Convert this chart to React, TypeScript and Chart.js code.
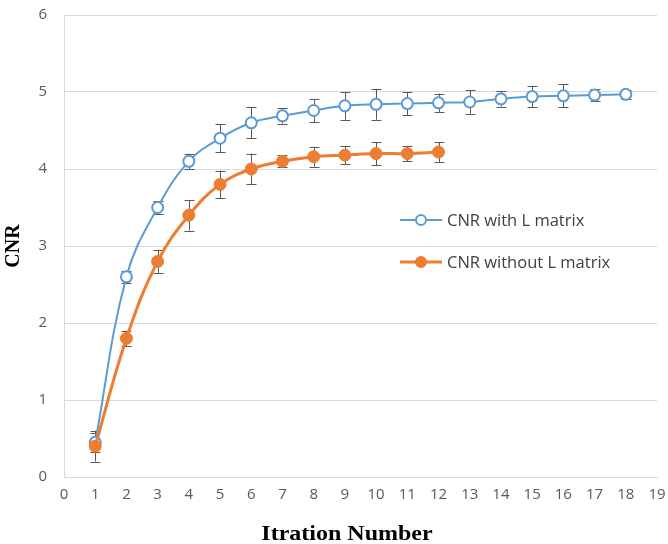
import React, { useEffect, useRef } from "react";
import { Chart, registerables } from "chart.js";

Chart.register(...registerables);

const iterations = [1, 2, 3, 4, 5, 6, 7, 8, 9, 10, 11, 12, 13, 14, 15, 16, 17, 18];
const cnrWithL = [0.45, 2.6, 3.5, 4.1, 4.4, 4.6, 4.69, 4.76, 4.82, 4.84, 4.85, 4.86, 4.87, 4.91, 4.94, 4.95, 4.96, 4.97];
const cnrWithLErr = [0.12, 0.08, 0.08, 0.1, 0.18, 0.2, 0.1, 0.15, 0.18, 0.2, 0.15, 0.12, 0.15, 0.1, 0.14, 0.15, 0.08, 0.06];
const cnrWithoutL = [0.4, 1.8, 2.8, 3.4, 3.8, 4.0, 4.1, 4.16, 4.18, 4.2, 4.2, 4.22];
const cnrWithoutLErr = [0.2, 0.1, 0.15, 0.2, 0.18, 0.2, 0.08, 0.13, 0.12, 0.15, 0.1, 0.13];
const seriesLabels = ["CNR with L matrix", "CNR without L matrix"];
const xTitle = "Itration Number";
const yTitle = "CNR";

const BLUE = "#5B9BD5";
const ORANGE = "#ED7D31";

const errors = [cnrWithLErr, cnrWithoutLErr];

const errorBarPlugin = {
  id: "errorBars",
  beforeDatasetsDraw(chart: any) {
    const ctx = chart.ctx;
    const xs = chart.scales.x;
    const ys = chart.scales.y;
    ctx.save();
    ctx.strokeStyle = "#595959";
    ctx.lineWidth = 1;
    chart.data.datasets.forEach((ds: any, di: number) => {
      const errs = errors[di];
      ds.data.forEach((p: any, i: number) => {
        const e = errs[i];
        const px = Math.round(xs.getPixelForValue(p.x)) + 0.5;
        const top = ys.getPixelForValue(p.y + e);
        const bot = ys.getPixelForValue(p.y - e);
        const cap = 5;
        ctx.beginPath();
        ctx.moveTo(px, top);
        ctx.lineTo(px, bot);
        ctx.moveTo(px - cap, Math.round(top) + 0.5);
        ctx.lineTo(px + cap, Math.round(top) + 0.5);
        ctx.moveTo(px - cap, Math.round(bot) + 0.5);
        ctx.lineTo(px + cap, Math.round(bot) + 0.5);
        ctx.stroke();
      });
    });
    ctx.restore();
  },
};

const legendPlugin = {
  id: "insideLegend",
  afterDraw(chart: any) {
    const ctx = chart.ctx;
    const items = [
      { label: seriesLabels[0], color: BLUE, filled: false, width: 2, y: 220 },
      { label: seriesLabels[1], color: ORANGE, filled: true, width: 3, y: 262 },
    ];
    ctx.save();
    items.forEach((it) => {
      ctx.strokeStyle = it.color;
      ctx.lineWidth = it.width;
      ctx.beginPath();
      ctx.moveTo(400, it.y);
      ctx.lineTo(442, it.y);
      ctx.stroke();
      ctx.beginPath();
      ctx.arc(421, it.y, 5, 0, Math.PI * 2);
      ctx.fillStyle = it.filled ? it.color : "#ffffff";
      ctx.fill();
      ctx.lineWidth = 2;
      ctx.stroke();
      ctx.fillStyle = "#404040";
      ctx.font = "16.5px 'Open Sans', sans-serif";
      ctx.textBaseline = "middle";
      ctx.textAlign = "left";
      ctx.fillText(it.label, 447, it.y + 1);
    });
    ctx.restore();
  },
};

const xTitlePlugin = {
  id: "xTitle",
  afterDraw(chart: any) {
    const ctx = chart.ctx;
    ctx.save();
    ctx.fillStyle = "#000000";
    ctx.font = "bold 20px 'Liberation Serif', 'Times New Roman', serif";
    ctx.textAlign = "center";
    ctx.textBaseline = "alphabetic";
    ctx.translate(347, 540);
    ctx.scale(1.2, 1);
    ctx.fillText(xTitle, 0, 0);
    ctx.restore();
  },
};

export default function App() {
  const ref = useRef<HTMLCanvasElement>(null);
  useEffect(() => {
    if (!ref.current) return;
    const chart = new Chart(ref.current, {
      type: "line",
      data: {
        datasets: [
          {
            label: seriesLabels[0],
            data: iterations.map((x, i) => ({ x, y: cnrWithL[i] })),
            borderColor: BLUE,
            backgroundColor: "#ffffff",
            borderWidth: 2,
            pointRadius: 5.5,
            pointBorderWidth: 2,
            pointBorderColor: BLUE,
            pointBackgroundColor: "#ffffff",
            tension: 0.4,
            order: 1,
          },
          {
            label: seriesLabels[1],
            data: iterations.slice(0, cnrWithoutL.length).map((x, i) => ({ x, y: cnrWithoutL[i] })),
            borderColor: ORANGE,
            backgroundColor: ORANGE,
            borderWidth: 3,
            pointRadius: 6,
            pointBorderWidth: 1,
            pointBorderColor: ORANGE,
            pointBackgroundColor: ORANGE,
            tension: 0.4,
            order: 0,
          },
        ],
      },
      options: {
        animation: false,
        responsive: false,
        layout: { padding: { top: 15, right: 11, left: 0, bottom: 0 } },
        plugins: { legend: { display: false }, tooltip: { enabled: false } },
        scales: {
          x: {
            type: "linear",
            min: 0,
            max: 19,
            afterFit: (s: any) => {
              s.height = 67;
              s.paddingLeft = 0;
              s.paddingRight = 0;
            },
            ticks: {
              stepSize: 1,
              padding: 9,
              color: "#595959",
              font: { family: "'Open Sans', sans-serif", size: 15 },
              autoSkip: false,
              maxRotation: 0,
            },
            grid: { display: false, drawTicks: false },
            border: { display: true, color: "#d9d9d9", width: 1 },
            title: { display: false },
          },
          y: {
            min: 0,
            max: 6,
            afterFit: (s: any) => {
              s.width = 64;
              s.paddingTop = 0;
              s.paddingBottom = 0;
            },
            ticks: {
              stepSize: 1,
              padding: 17,
              color: "#595959",
              font: { family: "'Open Sans', sans-serif", size: 15 },
            },
            grid: { color: "#d9d9d9", drawTicks: false },
            border: { display: true, color: "#d9d9d9", width: 1 },
            title: {
              display: true,
              text: yTitle,
              color: "#000000",
              font: { family: "'Liberation Serif', 'Times New Roman', serif", size: 20, weight: "bold" },
              padding: { top: 2, bottom: 0 },
            },
          },
        },
      },
      plugins: [errorBarPlugin, legendPlugin, xTitlePlugin],
    } as any);
    return () => chart.destroy();
  }, []);
  return (
    <div style={{ position: "fixed", left: 0, top: 0, width: 668, height: 544, background: "#fff" }}>
      <canvas ref={ref} width={668} height={544} style={{ width: 668, height: 544 }} />
    </div>
  );
}
